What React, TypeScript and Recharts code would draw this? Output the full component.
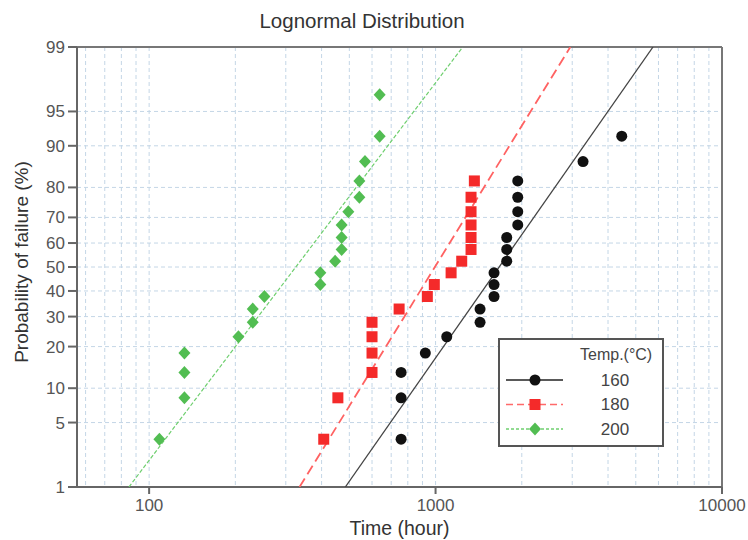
import { CartesianGrid, ReferenceLine, Scatter, ScatterChart, XAxis, YAxis } from "recharts";

// median ranks (%)
const prob160 = [3.43, 8.33, 13.24, 18.14, 23.04, 27.94, 32.84, 37.75, 42.65, 47.55, 52.45, 57.35, 62.25, 67.16, 72.06, 76.96, 81.86, 86.76, 91.67];
const time160 = [758, 758, 758, 921, 1094, 1430, 1430, 1600, 1600, 1600, 1772, 1772, 1772, 1936, 1936, 1936, 1936, 3272, 4467];

const prob180 = [3.43, 8.33, 13.24, 18.14, 23.04, 27.94, 32.84, 37.75, 42.65, 47.55, 52.45, 57.35, 62.25, 67.16, 72.06, 76.96, 81.86];
const time180 = [407, 456, 600, 600, 600, 600, 746, 936, 990, 1133, 1234, 1330, 1330, 1330, 1330, 1330, 1366];

const prob200 = [3.43, 8.33, 13.24, 18.14, 23.04, 27.94, 32.84, 37.75, 42.65, 47.55, 52.45, 57.35, 62.25, 67.16, 72.06, 76.96, 81.86, 86.76, 91.67, 96.57];
const time200 = [108.6, 132.8, 132.8, 132.8, 205, 230, 230, 252.6, 396, 396, 446, 470, 470, 470, 496, 542, 542, 567, 638, 638];

// fitted lognormal lines, endpoints at 1% and 99%
const fitProb = [1, 99];
const fit160 = [484, 5743];
const fit180 = [335, 2954];
const fit200 = [85, 1244];

const probTicks = [1, 5, 10, 20, 30, 40, 50, 60, 70, 80, 90, 95, 99];
const timeTicks = [100, 1000, 10000];
const timeGrid = [60, 70, 80, 90, 100, 200, 300, 400, 500, 600, 700, 800, 900, 1000, 2000, 3000, 4000, 5000, 6000, 7000, 8000, 9000];

const FONT = "'Liberation Sans', Arial, sans-serif";

// inverse normal CDF (Acklam)
function probit(p: number) {
  const a = [-39.69683028665376, 220.9460984245205, -275.9285104469687, 138.357751867269, -30.66479806614716, 2.506628277459239];
  const b = [-54.47609879822406, 161.5858368580409, -155.6989798598866, 66.80131188771972, -13.28068155288572];
  const c = [-0.007784894002430293, -0.3223964580411365, -2.400758277161838, -2.549732539343734, 4.374664141464968, 2.938163982698783];
  const d = [0.007784695709041462, 0.3224671290700398, 2.445134137142996, 3.754408661907416];
  const pl = 0.02425;
  if (p < pl) {
    const q = Math.sqrt(-2 * Math.log(p));
    return (((((c[0] * q + c[1]) * q + c[2]) * q + c[3]) * q + c[4]) * q + c[5]) / ((((d[0] * q + d[1]) * q + d[2]) * q + d[3]) * q + 1);
  }
  if (p > 1 - pl) {
    const q = Math.sqrt(-2 * Math.log(1 - p));
    return -(((((c[0] * q + c[1]) * q + c[2]) * q + c[3]) * q + c[4]) * q + c[5]) / ((((d[0] * q + d[1]) * q + d[2]) * q + d[3]) * q + 1);
  }
  const q = p - 0.5;
  const r = q * q;
  return ((((((a[0] * r + a[1]) * r + a[2]) * r + a[3]) * r + a[4]) * r + a[5]) * q) / (((((b[0] * r + b[1]) * r + b[2]) * r + b[3]) * r + b[4]) * r + 1);
}

const toPoints = (times: number[], probs: number[]) => times.map((t, i) => ({ t, z: probit(probs[i] / 100) }));

const zTicks = probTicks.map((p) => probit(p / 100));
const zMin = probit(0.01);
const zMax = probit(0.99);

const tickLabel = (v: number) => {
  const i = zTicks.findIndex((z) => Math.abs(z - v) < 1e-6);
  return i >= 0 ? String(probTicks[i]) : "";
};

const Dot = (props: any) => <circle cx={props.cx} cy={props.cy} r={5.5} fill="#111" />;
const Square = (props: any) => <rect x={props.cx - 5.5} y={props.cy - 5.5} width={11} height={11} fill="#f42a2a" />;
const Diamond = (props: any) => {
  const { cx, cy } = props;
  return <polygon points={`${cx},${cy - 6.5} ${cx + 6},${cy} ${cx},${cy + 6.5} ${cx - 6},${cy}`} fill="#52bd52" />;
};
const Empty = () => <g />;

const legendRows = [
  { label: "160", color: "#222", dash: undefined as string | undefined, Shape: Dot },
  { label: "180", color: "#ff6a6a", dash: "7 4", Shape: Square },
  { label: "200", color: "#6fcf6f", dash: "3 2", Shape: Diamond },
];

function LegendBox() {
  return (
    <div
      style={{
        position: "absolute",
        left: 498,
        top: 338,
        width: 162,
        height: 105,
        border: "2px solid #555",
        background: "#fff",
        fontFamily: FONT,
        color: "#444",
      }}
    >
      <div style={{ position: "absolute", left: 80, top: 6, fontSize: 16 }}>Temp.(°C)</div>
      <svg width={162} height={105} style={{ position: "absolute", left: 0, top: 0 }}>
        {legendRows.map((r, i) => {
          const y = 40 + i * 24.5;
          return (
            <g key={r.label}>
              <line x1={6} x2={63} y1={y} y2={y} stroke={r.color} strokeWidth={1.5} strokeDasharray={r.dash} />
              <r.Shape cx={35} cy={y} />
              <text x={115} y={y} textAnchor="middle" dominantBaseline="central" fontSize={17} fill="#444" fontFamily={FONT}>
                {r.label}
              </text>
            </g>
          );
        })}
      </svg>
    </div>
  );
}

export default function App() {
  return (
    <div style={{ position: "absolute", left: 0, top: 0, width: 748, height: 540, background: "#fff", fontFamily: FONT }}>
      <div style={{ position: "absolute", left: 0, width: 724, top: 9, textAlign: "center", fontSize: 20.5, color: "#333" }}>
        Lognormal Distribution
      </div>
      <ScatterChart width={748} height={540} margin={{ top: 47, right: 26, bottom: 0, left: 0 }}>
        <CartesianGrid stroke="#c4d6e6" strokeDasharray="4 3" verticalValues={timeGrid} horizontalValues={zTicks} />
        <XAxis
          type="number"
          dataKey="t"
          scale="log"
          domain={[56, 10000]}
          allowDataOverflow
          ticks={timeTicks}
          interval={0}
          height={53}
          stroke="#666"
          strokeWidth={2}
          tickSize={7}
          tickMargin={5}
          tick={{ fill: "#555", fontSize: 17, fontFamily: FONT }}
          label={(p: any) => (
            <text
              x={p.viewBox.x + p.viewBox.width / 2}
              y={p.viewBox.y + 41}
              textAnchor="middle"
              dominantBaseline="central"
              fontSize={19.5}
              fill="#333"
              fontFamily={FONT}
            >
              Time (hour)
            </text>
          )}
        />
        <YAxis
          type="number"
          dataKey="z"
          domain={[zMin, zMax]}
          allowDataOverflow
          ticks={zTicks}
          interval={0}
          tickFormatter={tickLabel}
          width={77}
          stroke="#666"
          strokeWidth={2}
          tickSize={9}
          tickMargin={3}
          tick={{ fill: "#555", fontSize: 17, fontFamily: FONT }}
          label={(p: any) => (
            <text
              x={21}
              y={p.viewBox.y + p.viewBox.height / 2 - 5}
              transform={`rotate(-90 21 ${p.viewBox.y + p.viewBox.height / 2 - 5})`}
              textAnchor="middle"
              dominantBaseline="central"
              fontSize={19}
              fill="#333"
              fontFamily={FONT}
            >
              Probability of failure (%)
            </text>
          )}
        />
        <ReferenceLine y={zMax} stroke="#777" strokeWidth={2} />
        <ReferenceLine x={10000} stroke="#777" strokeWidth={2} />
        <Scatter data={toPoints(fit200, fitProb)} line={{ stroke: "#6fcf6f", strokeWidth: 1.2, strokeDasharray: "4 2" }} shape={Empty} isAnimationActive={false} />
        <Scatter data={toPoints(fit180, fitProb)} line={{ stroke: "#ff6262", strokeWidth: 1.8, strokeDasharray: "10 5" }} shape={Empty} isAnimationActive={false} />
        <Scatter data={toPoints(fit160, fitProb)} line={{ stroke: "#444", strokeWidth: 1.3 }} shape={Empty} isAnimationActive={false} />
        <Scatter data={toPoints(time200, prob200)} shape={Diamond} isAnimationActive={false} />
        <Scatter data={toPoints(time180, prob180)} shape={Square} isAnimationActive={false} />
        <Scatter data={toPoints(time160, prob160)} shape={Dot} isAnimationActive={false} />
      </ScatterChart>
      <LegendBox />
    </div>
  );
}
